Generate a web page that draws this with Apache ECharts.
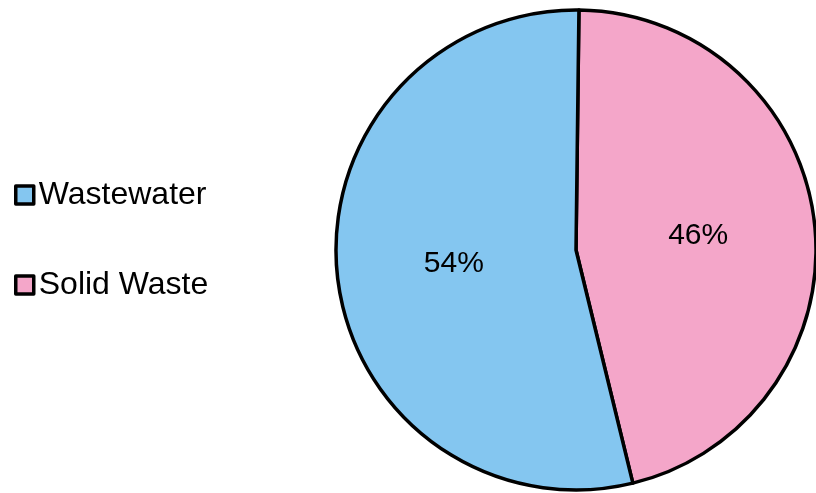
<!DOCTYPE html>
<html>
<head>
<meta charset="utf-8">
<script src="https://cdn.jsdelivr.net/npm/echarts@6/dist/echarts.min.js"></script>
<style>
  html, body { margin: 0; padding: 0; background: #fff; }
  #chart { width: 816px; height: 493px; }
</style>
</head>
<body>
<div id="chart"></div>
<script>
// Share of emissions by waste stream
const categories = ['Solid Waste', 'Wastewater'];
const shares = [46, 54];
const legendOrder = ['Wastewater', 'Solid Waste'];
const sliceColors = { 'Solid Waste': '#F4A6C9', 'Wastewater': '#84C6F0' };

const chart = echarts.init(document.getElementById('chart'), null, { renderer: 'canvas' });
const font = 'Arial, "Liberation Sans", sans-serif';

chart.setOption({
  animation: false,
  backgroundColor: '#ffffff',
  legend: {
    data: legendOrder,
    orient: 'vertical',
    left: 9,
    top: 174,
    padding: 5,
    icon: 'rect',
    itemWidth: 18,
    itemHeight: 18,
    itemGap: 58,
    textStyle: { fontSize: 32, lineHeight: 32, color: '#000', fontFamily: font },
    itemStyle: { borderColor: '#000', borderWidth: 3.5 }
  },
  series: [{
    type: 'pie',
    center: [576, 250],
    radius: 240,
    startAngle: 89.3,
    clockwise: true,
    silent: true,
    label: {
      position: 'inside',
      formatter: '{c}%',
      fontSize: 30,
      color: '#000',
      fontFamily: font
    },
    labelLine: { show: false },
    itemStyle: { borderColor: '#000', borderWidth: 3.5 },
    data: categories.map((name, i) => ({
      name: name,
      value: shares[i],
      itemStyle: { color: sliceColors[name] }
    }))
  }]
});
</script>
</body>
</html>
